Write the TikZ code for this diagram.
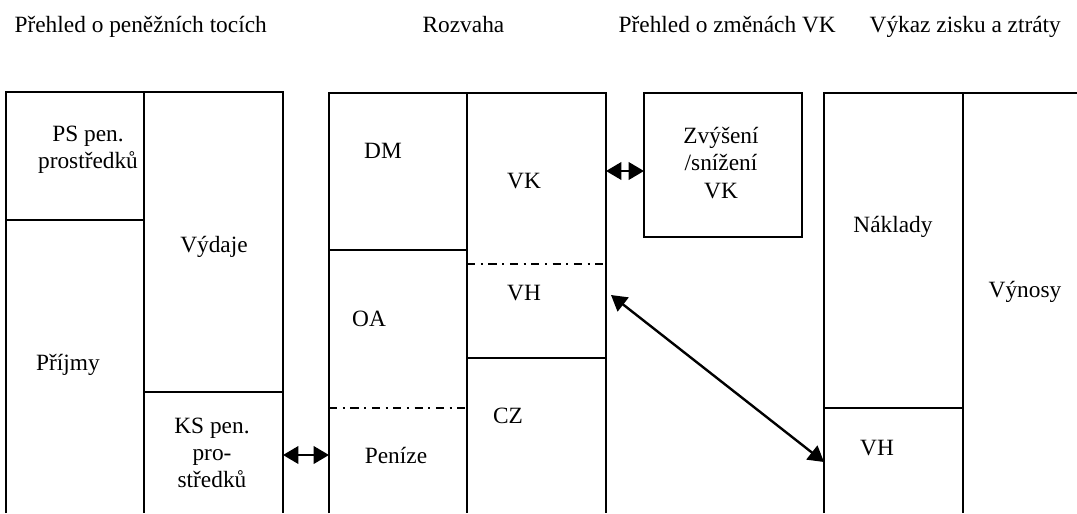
\documentclass[tikz,border=0pt]{standalone}
\usepackage{fontspec}
\setmainfont{Liberation Serif}
\usetikzlibrary{arrows.meta}
\begin{document}
\begin{tikzpicture}[x=0.025cm,y=-0.025cm,line width=0.9pt,
	lbl/.style={font=\fontsize{16.6}{19.3}\selectfont,inner sep=0pt,align=center},
	dashdot/.style={dash pattern=on 5.8pt off 4pt on 1.4pt off 4pt},
	both/.style={{Triangle[length=11pt,width=12.5pt]}-{Triangle[length=11pt,width=12.5pt]},line width=1.7pt}]
	\useasboundingbox (0,0) rectangle (1077,513);
	% titles
	\node[lbl,anchor=base west] (tcash) at (14,32) {Přehled o peněžních tocích};
	\node[lbl,anchor=base west] (tbal) at (422,32) {Rozvaha};
	\node[lbl,anchor=base west] (tequ) at (618,32) {Přehled o změnách VK};
	\node[lbl,anchor=base west] (tpl) at (869,32) {Výkaz zisku a ztráty};
	% cash flow statement
	\draw (6,513) -- (6,92) -- (283,92) -- (283,513);
	\draw (144,92) -- (144,513);
	\draw (6,220) -- (144,220);
	\draw (144,392) -- (283,392);
	\node[lbl] (ps) at (88,150) {PS pen.\\prostředků};
	\node[lbl,anchor=base] (vyd) at (214,252) {Výdaje};
	\node[lbl,anchor=base] (prij) at (68,370) {Příjmy};
	\node[lbl] (ks) at (212,453) {KS pen.\\pro-\\středků};
	% balance sheet
	\draw (329,513) -- (329,93) -- (606,93) -- (606,513);
	\draw (467,93) -- (467,513);
	\draw (329,250) -- (467,250);
	\draw (467,358) -- (606,358);
	\draw[dashdot] (329,408) -- (467,408);
	\draw[dashdot] (467,264) -- (606,264);
	\node[lbl,anchor=base] (dm) at (383,158) {DM};
	\node[lbl,anchor=base] (vk) at (524,188) {VK};
	\node[lbl,anchor=base] (oa) at (369,326) {OA};
	\node[lbl,anchor=base] (vh) at (524,300) {VH};
	\node[lbl,anchor=base] (cz) at (508,423) {CZ};
	\node[lbl,anchor=base] (pen) at (396,463) {Peníze};
	% changes in equity
	\draw (644,93) rectangle (802,237);
	\node[lbl] (zvys) at (721,163) {Zvýšení\\/snížení\\VK};
	% income statement
	\draw (824,513) -- (824,93) -- (1077,93);
	\draw (963,93) -- (963,513);
	\draw (824,408) -- (963,408);
	\node[lbl,anchor=base] (nakl) at (893,232) {Náklady};
	\node[lbl,anchor=base] (vyn) at (1025,297) {Výnosy};
	\node[lbl,anchor=base] (vhz) at (877,455) {VH};
	% links
	\coordinate (ksR) at (283,455);
	\coordinate (penL) at (329,455);
	\coordinate (vkR) at (606,171);
	\coordinate (zvysL) at (644,171);
	\coordinate (vhR) at (611,295);
	\coordinate (vhzL) at (824,462);
	\draw[both] (ksR) -- (penL);
	\draw[both] (vkR) -- (zvysL);
	\draw[both] (vhR) -- (vhzL);
\end{tikzpicture}
\end{document}
